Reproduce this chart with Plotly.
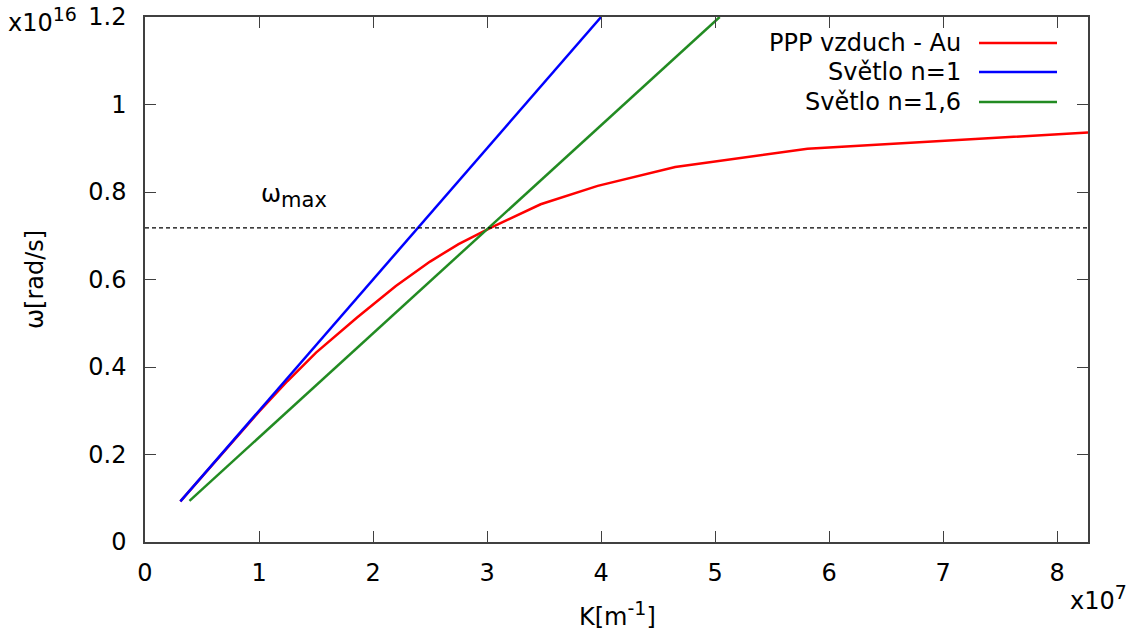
import plotly.graph_objects as go

# Data (K in units of 1e7 m^-1, omega in units of 1e16 rad/s)
k_ppp = [0.31, 0.6, 1.0, 1.25, 1.5, 1.86, 2.2, 2.5, 2.75, 3.03, 3.47, 3.97, 4.65, 5.81, 8.27]
w_ppp = [0.093, 0.18, 0.298, 0.368, 0.433, 0.513, 0.585, 0.641, 0.681, 0.718, 0.772, 0.814, 0.857, 0.899, 0.936]

k_n1 = [0.31, 4.0]
w_n1 = [0.093, 1.2]

k_n16 = [0.39, 5.04]
w_n16 = [0.094, 1.2]

w_max = 0.718

x_ticks = [0, 1, 2, 3, 4, 5, 6, 7, 8]
y_ticks = [0, 0.2, 0.4, 0.6, 0.8, 1.0, 1.2]
y_tick_text = ["0", "0.2", "0.4", "0.6", "0.8", "1", "1.2"]

names = ["PPP vzduch - Au", "Světlo n=1", "Světlo n=1,6"]
colors = ["#ff0000", "#0000ff", "#228b22"]

W, H = 1132, 637
L, R, T, B = 145, 1088, 17, 542

def px(x):
    return (x - L) / (R - L)

def py(y):
    return (B - y) / (B - T)

FONT = "DejaVu Sans"
FS = 24
fig = go.Figure()
fig.add_trace(go.Scatter(x=k_ppp, y=w_ppp, mode="lines", line=dict(color=colors[0], width=2.5), name=names[0]))
fig.add_trace(go.Scatter(x=k_n1, y=w_n1, mode="lines", line=dict(color=colors[1], width=2.5), name=names[1]))
fig.add_trace(go.Scatter(x=k_n16, y=w_n16, mode="lines", line=dict(color=colors[2], width=2.5), name=names[2]))

# omega_max dashed line
fig.add_trace(go.Scatter(x=[0, 8.27], y=[w_max, w_max], mode="lines",
                         line=dict(color="black", width=1.3, dash="4px,3px"), showlegend=False))

axis_common = dict(showline=True, linecolor="#404040", linewidth=1.5, mirror="ticks",
                   ticks="inside", ticklen=11, tickcolor="#404040", tickwidth=1,
                   showgrid=False, zeroline=False, automargin=False,
                   tickfont=dict(family=FONT, size=FS, color="black"))

fig.update_xaxes(range=[0, 8.27], tickvals=x_ticks, ticklabelstandoff=8, **axis_common)
fig.update_yaxes(range=[0, 1.2], tickvals=y_ticks, ticktext=y_tick_text, ticklabelstandoff=12, **axis_common)

annotations = []
# legend (gnuplot style: text right, line sample at right)
rows = [43, 72, 102]
shapes = []
for name, col, ry in zip(names, colors, rows):
    annotations.append(dict(x=px(963), y=py(ry), xref="paper", yref="paper", text=name,
                            showarrow=False, xanchor="right", yanchor="middle",
                            font=dict(family=FONT, size=FS, color="black")))
    shapes.append(dict(type="line", xref="paper", yref="paper", x0=px(979), x1=px(1057),
                       y0=py(ry), y1=py(ry), line=dict(color=col, width=2.5)))

annotations.append(dict(x=1.0, y=0.79, xref="x", yref="y",
                        text="ω<sub><span style='font-size:21px'>max</span></sub>",
                        showarrow=False, xanchor="left", yanchor="middle",
                        font=dict(family=FONT, size=FS, color="black")))
annotations.append(dict(x=px(6), y=py(20), xref="paper", yref="paper",
                        text="x10<sup><span style='font-size:19px'>16</span></sup>",
                        showarrow=False, xanchor="left", yanchor="middle",
                        font=dict(family=FONT, size=FS, color="black")))
annotations.append(dict(x=px(1068), y=py(598), xref="paper", yref="paper",
                        text="x10<sup><span style='font-size:19px'>7</span></sup>",
                        showarrow=False, xanchor="left", yanchor="middle",
                        font=dict(family=FONT, size=FS, color="black")))
annotations.append(dict(x=px(617), y=py(614), xref="paper", yref="paper",
                        text="K[m<sup><span style='font-size:19px'>-1</span></sup>]",
                        showarrow=False, xanchor="center", yanchor="middle",
                        font=dict(family=FONT, size=FS, color="black")))
annotations.append(dict(x=px(35), y=py(280), xref="paper", yref="paper", text="ω[rad/s]",
                        showarrow=False, xanchor="center", yanchor="middle", textangle=-90,
                        font=dict(family=FONT, size=FS, color="black")))

fig.update_layout(width=W, height=H, margin=dict(l=L, r=W - R, t=T, b=H - B),
                  paper_bgcolor="white", plot_bgcolor="white", showlegend=False,
                  annotations=annotations, shapes=shapes,
                  font=dict(family=FONT, size=FS, color="black"))

fig.write_html("out.html")
